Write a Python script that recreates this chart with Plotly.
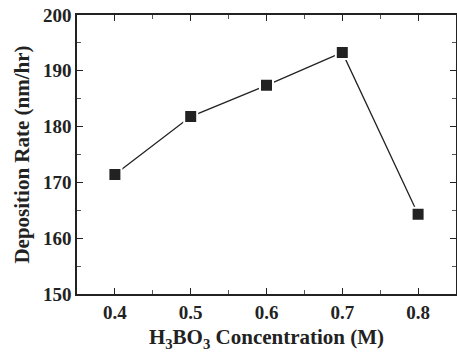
import plotly.graph_objects as go

concentration = [0.4, 0.5, 0.6, 0.7, 0.8]
deposition_rate = [171.4, 181.8, 187.4, 193.3, 164.3]
x_ticks = [0.4, 0.5, 0.6, 0.7, 0.8]
y_ticks = [150, 160, 170, 180, 190, 200]

font_family = "Liberation Serif"

fig = go.Figure()
fig.add_trace(go.Scatter(
    x=concentration, y=deposition_rate, mode="lines+markers",
    line=dict(color="#222222", width=1.3),
    marker=dict(symbol="square", size=13, color="#222222",
                line=dict(color="white", width=2)),
    showlegend=False,
))

axis_common = dict(
    showline=True, linecolor="#222222", linewidth=1.5, mirror="ticks",
    ticks="inside", ticklen=6, tickwidth=1.2, tickcolor="#222222",
    showgrid=False, zeroline=False, automargin=False,
    tickfont=dict(family=font_family, size=19, color="#222222", weight="bold"),
)

fig.update_xaxes(
    range=[0.35, 0.85], tickvals=x_ticks, ticktext=[f"{v:.1f}" for v in x_ticks],
    minor=dict(ticks="inside", ticklen=4, tickwidth=1, tickcolor="#555555", dtick=0.05, tick0=0.35),
    title=dict(text="<b>H<sub>3</sub>BO<sub>3</sub> Concentration (M)</b>",
               font=dict(family=font_family, size=21, color="#222222"), standoff=8),
    **axis_common,
)
fig.update_yaxes(
    range=[150, 200], tickvals=y_ticks, ticktext=[str(v) for v in y_ticks],
    minor=dict(ticks="inside", ticklen=4, tickwidth=1, tickcolor="#555555", dtick=5, tick0=150),
    title=dict(text="<b>Deposition Rate (nm/hr)</b>",
               font=dict(family=font_family, size=21, color="#222222"), standoff=8),
    **axis_common,
)
fig.update_layout(
    width=457, height=355,
    margin=dict(l=77, r=1, t=15, b=61),
    paper_bgcolor="white", plot_bgcolor="white",
    font=dict(family=font_family, size=19, color="#222222", weight="bold"),
)
fig.write_html("out.html", config={"displayModeBar": False},
               post_script="document.body.style.margin='0';document.body.style.overflow='hidden';")
